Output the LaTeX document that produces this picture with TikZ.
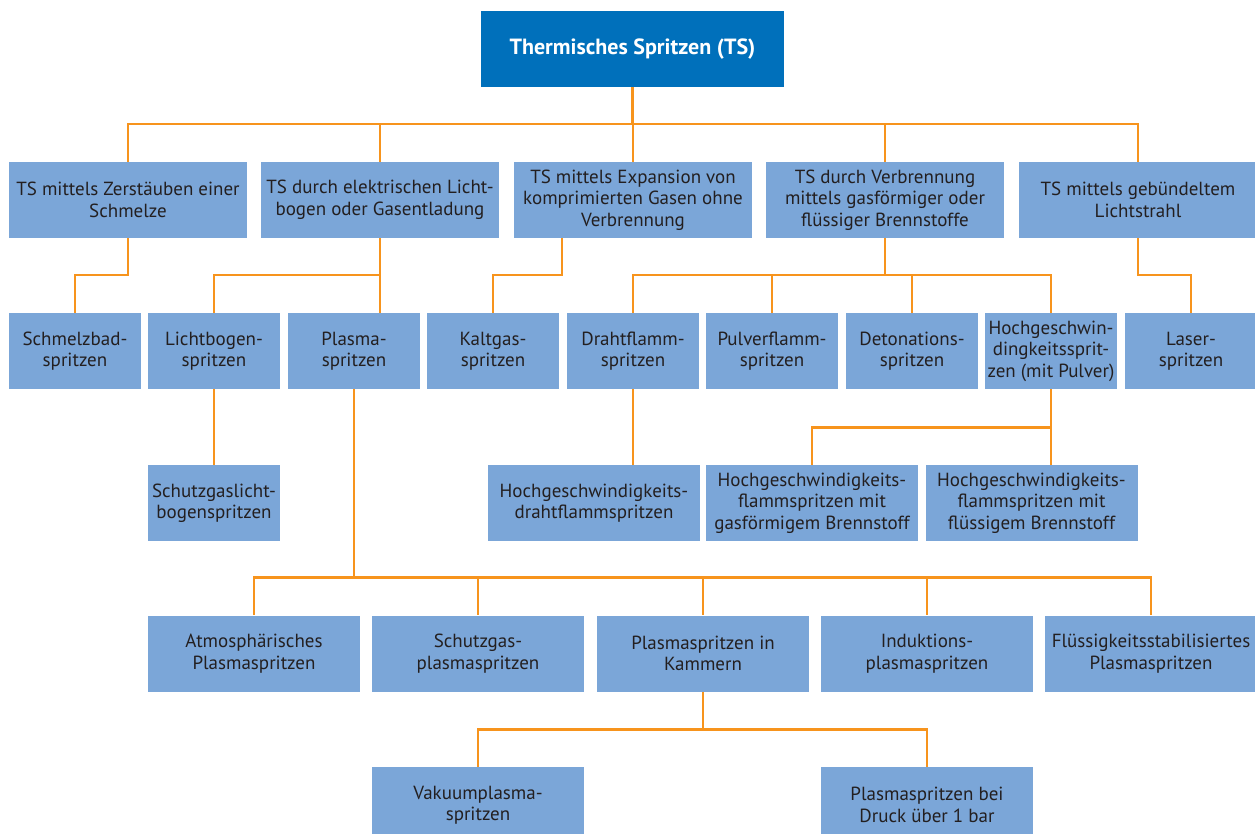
\documentclass[tikz,border=0pt]{standalone}
\usepackage{fontspec}
\setmainfont{PT Sans}
\usepackage{tikz}
\usetikzlibrary{positioning,calc}

\definecolor{boxblue}{RGB}{123,166,216}
\definecolor{rootblue}{RGB}{0,112,187}
\definecolor{linkorange}{RGB}{247,148,29}
\definecolor{textgray}{RGB}{35,31,32}

\begin{document}
\begin{tikzpicture}[x=1pt,y=-1pt,
    box/.style={fill=boxblue,text=textgray,align=center,inner sep=0pt,
      minimum height=76pt,font=\fontsize{19}{21.5}\selectfont},
    smallbox/.style={box,minimum width=132pt},
    widebox/.style={box,minimum width=238pt},
    flatbox/.style={box,minimum width=212pt},
    rootbox/.style={fill=rootblue,text=white,align=center,minimum width=303pt,
      minimum height=76pt,font=\fontsize{22}{24}\selectfont\bfseries},
    link/.style={draw=linkorange,line width=2.6pt}]
  \useasboundingbox (0,0) rectangle (1255,834);
  % Root of the tree
  \node[rootbox] (root) at (632.5,49) {Thermisches Spritzen (TS)};
  % First level: the five groups
  \node[widebox] (zer) at (128,200) {TS mittels Zerstäuben einer\\Schmelze};
  \node[widebox] (elk) at (380,200) {TS durch elektrischen Licht-\\bogen oder Gasentladung};
  \node[widebox] (exp) at (633,200) {TS mittels Expansion von\\komprimierten Gasen ohne\\Verbrennung};
  \node[widebox] (ver) at (885,200) {TS durch Verbrennung\\mittels gasförmiger oder\\flüssiger Brennstoffe};
  \node[widebox] (lst) at (1138,200) {TS mittels gebündeltem\\Lichtstrahl};
  % Second level
  \node[smallbox] (smb) at (75,351) {Schmelzbad-\\spritzen};
  \node[smallbox] (lbs) at (214,351) {Lichtbogen-\\spritzen};
  \node[smallbox] (pls) at (354,351) {Plasma-\\spritzen};
  \node[smallbox] (kgs) at (493,351) {Kaltgas-\\spritzen};
  \node[smallbox] (dfs) at (633,351) {Drahtflamm-\\spritzen};
  \node[smallbox] (pfs) at (772,351) {Pulverflamm-\\spritzen};
  \node[smallbox] (dts) at (912,351) {Detonations-\\spritzen};
  \node[smallbox] (hgs) at (1051,351) {Hochgeschwin-\\dingkeitssprit-\\zen (mit Pulver)};
  \node[smallbox] (las) at (1191,351) {Laser-\\spritzen};
  % Third level
  \node[smallbox] (sgl) at (214,503) {Schutzgaslicht-\\bogenspritzen};
  \node[flatbox] (hgd) at (594,503) {Hochgeschwindigkeits-\\drahtflammspritzen};
  \node[flatbox] (hgg) at (812,503) {Hochgeschwindigkeits-\\flammspritzen mit\\gasförmigem Brennstoff};
  \node[flatbox] (hgf) at (1031.5,503) {Hochgeschwindigkeits-\\flammspritzen mit\\flüssigem Brennstoff};
  % Fourth level: kinds of plasma spraying
  \node[flatbox] (atm) at (254,653.5) {Atmosphärisches\\Plasmaspritzen};
  \node[flatbox] (sgp) at (478,653.5) {Schutzgas-\\plasmaspritzen};
  \node[flatbox] (kam) at (703,653.5) {Plasmaspritzen in\\Kammern};
  \node[flatbox] (ind) at (927,653.5) {Induktions-\\plasmaspritzen};
  \node[flatbox] (fls) at (1151,653.5) {Flüssigkeitsstabilisiertes\\Plasmaspritzen};
  % Fifth level
  \node[flatbox] (vak) at (478,805) {Vakuumplasma-\\spritzen};
  \node[flatbox] (dru) at (927,805) {Plasmaspritzen bei\\Druck über 1 bar};

  % Connectors from the root
  \draw[link] (root.south) -- ++(0,37) coordinate (rbus);
  \foreach \n in {zer,elk,exp,ver,lst}
    \draw[link] (rbus) -| (\n.north);
  % Connectors below the first level
  \draw[link] (zer.south) -- ++(0,37) -| (smb.north);
  \draw[link] (elk.south) -- ++(0,37) -| (lbs.north);
  \draw[link] (elk.south) -- (elk.south |- pls.north);
  \draw[link] ($(exp.south west)+(48,0)$) -- ++(0,37) -| (kgs.north);
  \draw[link] (ver.south) -- ++(0,37) coordinate (vbus);
  \foreach \n in {dfs,pfs,dts,hgs}
    \draw[link] (vbus) -| (\n.north);
  \draw[link] (lst.south) -- ++(0,37) -| (las.north);
  % Connectors below the second level
  \draw[link] (lbs.south) -- (sgl.north);
  \draw[link] (dfs.south) -- (dfs.south |- hgd.north);
  \draw[link] (hgs.south) -- (hgs.south |- hgf.north);
  \draw[link] (hgs.south) -- ++(0,38) -| (hgg.north);
  \coordinate (pbus) at ($(kam.north)+(0,-38)$);
  \draw[link] (pls.south) -- (pls.south |- pbus);
  \foreach \n in {atm,sgp,kam,ind,fls}
    \draw[link] (pls.south |- pbus) -| (\n.north);
  % Connectors below the chamber node
  \draw[link] (kam.south) -- ++(0,38) coordinate (kbus);
  \draw[link] (kbus) -| (vak.north);
  \draw[link] (kbus) -| (dru.north);
\end{tikzpicture}
\end{document}
